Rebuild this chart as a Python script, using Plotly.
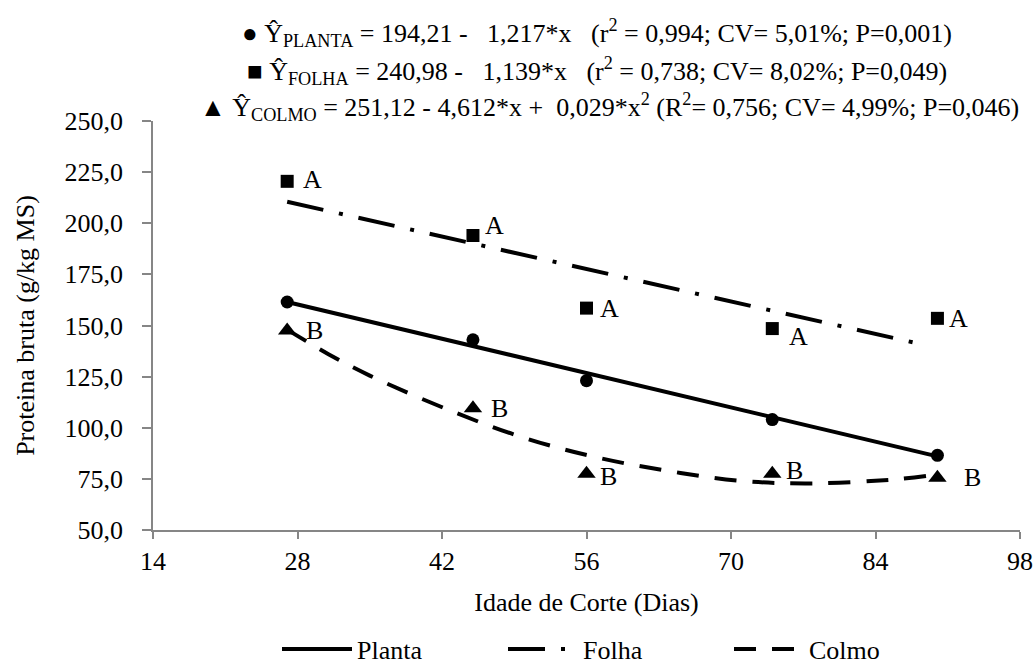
import plotly.graph_objects as go

# ---- data ----
dias = [27, 45, 56, 74, 90]
planta = [161.5, 143.0, 123.0, 104.0, 86.5]
folha = [220.5, 194.0, 158.5, 148.5, 153.5]
colmo = [147.5, 109.5, 77.5, 77.5, 75.5]
letras_folha = ["A", "A", "A", "A", "A"]
letras_colmo = ["B", "B", "B", "B", "B"]

fit_planta_x = [27, 90]
fit_planta_y = [161.5, 86.0]
fit_folha_x = [27, 89]
fit_folha_y = [210.5, 140.2]
fit_colmo_x = [27, 31, 35, 43, 50, 57, 64, 71, 78, 86, 89]
fit_colmo_y = [148.0, 136.0, 125.5, 108.0, 95.0, 85.5, 78.8, 74.0, 72.8, 74.8, 76.5]

x_ticks = [14, 28, 42, 56, 70, 84, 98]
y_ticks = [50, 75, 100, 125, 150, 175, 200, 225, 250]

equacoes = [
    "● Ŷ<sub>PLANTA</sub> = 194,21 -\u00a0\u00a0 1,217*x\u00a0\u00a0 (r<sup>2</sup> = 0,994; CV= 5,01%; P=0,001)",
    "■ Ŷ<sub>FOLHA</sub> = 240,98 -\u00a0\u00a0 1,139*x\u00a0\u00a0 (r<sup>2</sup> = 0,738; CV= 8,02%; P=0,049)",
    "▲ Ŷ<sub>COLMO</sub> = 251,12 - 4,612*x +\u00a0 0,029*x<sup>2</sup> (R<sup>2</sup>= 0,756; CV= 4,99%; P=0,046)",
]

# ---- style ----
FONT = "Liberation Serif"
BLACK = "#000000"
AXIS = "#868686"
off_folha = [(25, 2), (22, 10), (23, 0), (26, -8), (21, 0)]
off_colmo = [(27, 0), (27, 0), (22, -3), (22, 3), (35, 0)]

L, R, T, B = 153, 15, 121, 134
W, H = 1035 - L - R, 664 - T - B

fig = go.Figure()

fig.add_trace(go.Scatter(x=fit_planta_x, y=fit_planta_y, mode="lines", name="Planta",
                         line=dict(color=BLACK, width=4)))
fig.add_trace(go.Scatter(x=fit_folha_x, y=fit_folha_y, mode="lines", name="Folha",
                         line=dict(color=BLACK, width=4, dash="37px,16px,4px,16px")))
fig.add_trace(go.Scatter(x=fit_colmo_x, y=fit_colmo_y, mode="lines", name="Colmo",
                         line=dict(color=BLACK, width=4, dash="22px,16px", shape="spline")))

fig.add_trace(go.Scatter(x=dias, y=planta, mode="markers", showlegend=False,
                         marker=dict(symbol="circle", size=13, color=BLACK)))
fig.add_trace(go.Scatter(x=dias, y=folha, mode="markers", showlegend=False,
                         marker=dict(symbol="square", size=13, color=BLACK)))
fig.add_trace(go.Scatter(x=dias, y=colmo, mode="markers", showlegend=False,
                         marker=dict(symbol="triangle-up", size=16, color=BLACK)))

annotations = []
for xi, yi, t, (dx, dy) in zip(dias, folha, letras_folha, off_folha):
    annotations.append(dict(x=xi, y=yi, xref="x", yref="y", text=t, showarrow=False,
                            xshift=dx, yshift=dy, font=dict(family=FONT, size=26, color=BLACK)))
for xi, yi, t, (dx, dy) in zip(dias, colmo, letras_colmo, off_colmo):
    annotations.append(dict(x=xi, y=yi, xref="x", yref="y", text=t, showarrow=False,
                            xshift=dx, yshift=dy, font=dict(family=FONT, size=26, color=BLACK)))

eq_px = [(597, 33), (597, 71), (609, 107)]
for txt, (px, py) in zip(equacoes, eq_px):
    annotations.append(dict(x=(px - L) / W, y=1 - (py - T) / H, xref="paper", yref="paper",
                            text=txt, showarrow=False, xanchor="center", yanchor="middle",
                            font=dict(family=FONT, size=26, color=BLACK)))

fig.update_layout(
    width=1035, height=664,
    margin=dict(l=L, r=R, t=T, b=B, autoexpand=False),
    paper_bgcolor="white", plot_bgcolor="white",
    separators=",.",
    font=dict(family=FONT, color=BLACK, size=26),
    annotations=annotations,
    showlegend=True,
    legend=dict(orientation="h", x=(281 - 4) / 1035, xanchor="left", xref="container",
                y=1 - 649 / 664, yanchor="middle", yref="container",
                font=dict(family=FONT, size=26, color=BLACK), itemwidth=70,
                entrywidth=141, entrywidthmode="pixels", bgcolor="rgba(0,0,0,0)"),
    xaxis=dict(range=[14, 98], tickvals=x_ticks, ticktext=[str(v) for v in x_ticks],
               showgrid=False, zeroline=False, showline=True, linecolor=AXIS, linewidth=1.5,
               ticks="outside", ticklen=7, tickcolor=AXIS, tickwidth=1.5,
               tickfont=dict(family=FONT, size=26, color=BLACK),
               title=dict(text="Idade de Corte (Dias)", standoff=18,
                          font=dict(family=FONT, size=26, color=BLACK))),
    yaxis=dict(range=[50, 250], tickvals=y_ticks, tickformat=".1f",
               showgrid=False, zeroline=False, showline=True, linecolor=AXIS, linewidth=1.5,
               ticks="outside", ticklen=9, tickcolor=AXIS, tickwidth=1.5,
               ticklabelstandoff=14,
               tickfont=dict(family=FONT, size=26, color=BLACK),
               title=dict(text="Proteina bruta (g/kg MS)", standoff=22,
                          font=dict(family=FONT, size=26, color=BLACK))),
)

fig.write_html("out.html")
